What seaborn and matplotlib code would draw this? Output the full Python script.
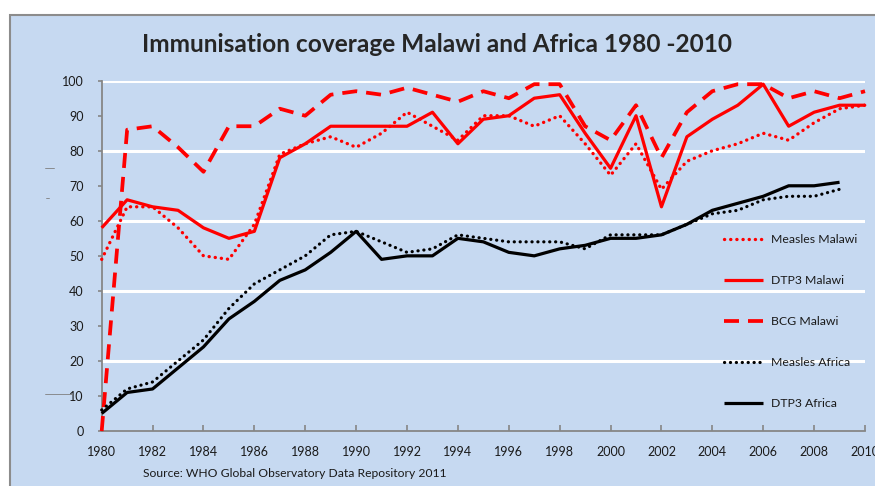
import numpy as np
import pandas as pd
import seaborn as sns
import matplotlib.pyplot as plt
from matplotlib.lines import Line2D
from matplotlib.patches import Rectangle

years_malawi = list(range(1980, 2011))
years_africa = list(range(1980, 2010))

measles_malawi = [49, 64, 64, 58, 50, 49, 59, 79, 82, 84, 81, 85, 91, 87, 83, 90,
                  90, 87, 90, 82, 73, 82, 69, 77, 80, 82, 85, 83, 88, 92, 93]
dtp3_malawi = [58, 66, 64, 63, 58, 55, 57, 78, 82, 87, 87, 87, 87, 91, 82, 89,
               90, 95, 96, 85, 75, 90, 64, 84, 89, 93, 99, 87, 91, 93, 93]
bcg_malawi = [0, 86, 87, 81, 74, 87, 87, 92, 90, 96, 97, 96, 98, 96, 94, 97,
              95, 99, 99, 87, 83, 93, 78, 91, 97, 99, 99, 95, 97, 95, 97]
measles_africa = [6, 12, 14, 20, 26, 35, 42, 46, 50, 56, 57, 54, 51, 52, 56, 55,
                  54, 54, 54, 52, 56, 56, 56, 59, 62, 63, 66, 67, 67, 69]
dtp3_africa = [5, 11, 12, 18, 24, 32, 37, 43, 46, 51, 57, 49, 50, 50, 55, 54,
               51, 50, 52, 53, 55, 55, 56, 59, 63, 65, 67, 70, 70, 71]

BLUE = "#C6D9F1"
RED = "#FF0000"

series = [
    ("Measles Malawi", years_malawi, measles_malawi, RED, 2.4, (0, (0.05, 1.8)), "round"),
    ("DTP3 Malawi", years_malawi, dtp3_malawi, RED, 2.3, "-", "butt"),
    ("BCG Malawi", years_malawi, bcg_malawi, RED, 2.7, (0, (4.0, 2.4)), "butt"),
    ("Measles Africa", years_africa, measles_africa, "black", 2.3, (0, (0.05, 1.8)), "round"),
    ("DTP3 Africa", years_africa, dtp3_africa, "black", 2.3, "-", "butt"),
]

sns.set_style("white")
plt.rcParams["font.family"] = ["Lato", "DejaVu Sans"]

fig = plt.figure(figsize=(8.75, 4.86), dpi=100)
fig.patch.set_facecolor("white")
# chart area frame
fig.add_artist(Rectangle((10 / 875, -0.05), 1.0, 1 - 15 / 486 + 0.05,
                         transform=fig.transFigure, facecolor=BLUE,
                         edgecolor="#8C8C8C", linewidth=1.5, zorder=0))

ax = fig.add_axes([101.7 / 875, 55 / 486, 763.3 / 875, 350.3 / 486])
ax.set_facecolor(BLUE)

for yv in [20, 40, 60, 80, 100]:
    ax.axhline(yv, color="white", linewidth=2.2, zorder=1)

for name, xs, ys, color, lw, ls, cap in series:
    df = pd.DataFrame({"year": xs, "coverage": ys})
    sns.lineplot(data=df, x="year", y="coverage", ax=ax, color=color,
                 linewidth=lw, linestyle=ls, label=name, clip_on=False,
                 zorder=3, dash_capstyle=cap, solid_capstyle="butt")

ax.set_xlim(1980, 2010)
ax.set_ylim(0, 100)
ax.set_xticks(range(1980, 2011, 2))
ax.set_yticks(range(0, 101, 10))
ax.set_xlabel("")
ax.set_ylabel("")

for s in ["top", "right"]:
    ax.spines[s].set_visible(False)
for s in ["left", "bottom"]:
    ax.spines[s].set_color("#868686")
    ax.spines[s].set_linewidth(1.3)

ax.tick_params(axis="y", direction="out", length=3, width=1.2, color="#868686",
               pad=10, labelsize=9, labelcolor="#1a1a1a", left=True)
ax.tick_params(axis="x", direction="in", length=4, width=1.2, color="#868686",
               pad=10.5, labelsize=9, labelcolor="#1a1a1a", bottom=True)

leg = ax.legend(loc="center left", bbox_to_anchor=(0.815, 0.3126), frameon=False,
                fontsize=8.8, handlelength=3.2, handletextpad=0.65,
                labelspacing=2.45, borderpad=0, borderaxespad=0)
for t in leg.get_texts():
    t.set_color("#1a1a1a")

fig.text(0.5, 1 - 45 / 486, "Immunisation coverage Malawi and Africa 1980 -2010",
         ha="center", va="center", fontsize=17.6, fontweight="bold")
fig.text(143 / 875, 1 - 473 / 486, "Source: WHO Global Observatory Data Repository 2011",
         ha="left", va="center", fontsize=8.7, color="#1a1a1a")

# stray marks left of the axis
for x0, x1, y in [(45, 72, 394), (45, 54, 168), (46, 49, 198)]:
    fig.add_artist(Line2D([x0 / 875, x1 / 875], [1 - y / 486, 1 - y / 486],
                          transform=fig.transFigure, color="#7F7F7F", linewidth=0.6))

fig.savefig("out.png", dpi=100, facecolor="white")
